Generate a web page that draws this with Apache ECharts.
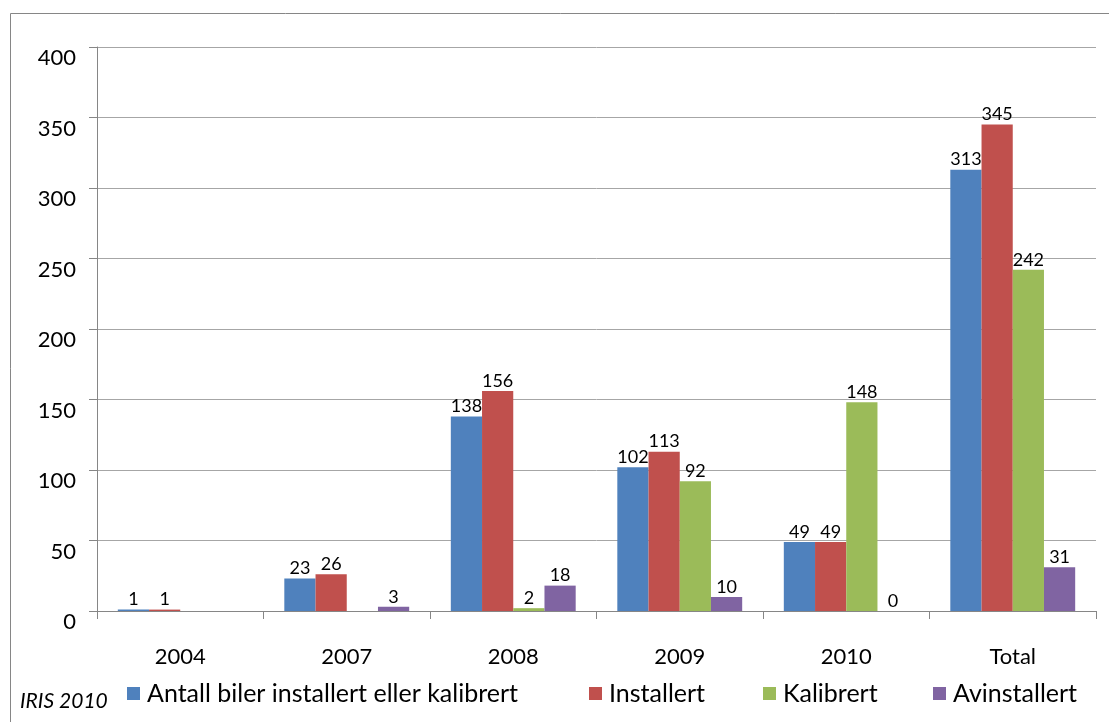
<!DOCTYPE html>
<html>
<head>
<meta charset="utf-8">
<script src="https://cdn.jsdelivr.net/npm/echarts@6/dist/echarts.min.js"></script>
<style>
  html, body { margin: 0; padding: 0; background: #fff; }
  #chart { width: 1109px; height: 722px; }
</style>
</head>
<body>
<div id="chart"></div>
<script>
// Categories along the x axis
const categories = ['2004', '2007', '2008', '2009', '2010', 'Total'];

// Series names and values (null = no bar drawn)
const seriesNames = ['Antall biler installert eller kalibrert', 'Installert', 'Kalibrert', 'Avinstallert'];
const antallValues = [1, 23, 138, 102, 49, 313];
const installertValues = [1, 26, 156, 113, 49, 345];
const kalibrertValues = [null, null, 2, 92, 148, 242];
const avinstallertValues = [null, 3, 18, 10, 0, 31];

// Y axis ticks
const yTicks = [0, 50, 100, 150, 200, 250, 300, 350, 400];

const colors = ['#4F81BD', '#C0504D', '#9BBB59', '#8064A2'];
const valueSets = [antallValues, installertValues, kalibrertValues, avinstallertValues];
const FONT = 'Lato';

const chart = echarts.init(document.getElementById('chart'), null, { renderer: 'canvas' });

const series = seriesNames.map((name, i) => ({
  name: name,
  type: 'bar',
  data: valueSets[i],
  barGap: '0%',
  barCategoryGap: '25%',
  itemStyle: { color: colors[i] },
  label: {
    show: true,
    position: 'top',
    distance: 1,
    color: '#000',
    fontFamily: FONT,
    fontSize: 18
  }
}));

// One legend per entry, placed individually along the bottom row
const legendLefts = [127, 589, 763, 933];
const legends = seriesNames.map((name, i) => ({
  data: [name],
  left: legendLefts[i],
  top: 681,
  padding: 0,
  itemWidth: 13,
  itemHeight: 13,
  itemGap: 0,
  icon: 'rect',
  textStyle: { fontFamily: FONT, fontSize: 25, color: '#000', padding: [8, 0, 0, 2] },
  selectedMode: false
}));

chart.setOption({
  animation: false,
  backgroundColor: '#fff',
  grid: { left: 97, right: 13, top: 47, bottom: 111 },
  legend: legends,
  xAxis: {
    type: 'category',
    data: categories,
    axisLine: { lineStyle: { color: '#868686', width: 1 } },
    axisTick: { show: true, length: 8, lineStyle: { color: '#868686' } },
    axisLabel: { fontFamily: FONT, fontSize: 22, color: '#000', margin: 35 }
  },
  yAxis: {
    type: 'value',
    min: yTicks[0],
    max: yTicks[yTicks.length - 1],
    interval: 50,
    axisLine: { show: true, lineStyle: { color: '#868686', width: 1 } },
    axisTick: { show: true, length: 8, lineStyle: { color: '#868686' } },
    // labels hang just below their gridlines
    axisLabel: { fontFamily: FONT, fontSize: 22, color: '#000', margin: 21, verticalAlign: 'top' },
    splitLine: { show: true, lineStyle: { color: '#a6a6a6', width: 1 } }
  },
  series: series,
  graphic: [
    {
      type: 'rect',
      shape: { x: 10.5, y: 13.5, width: 1110, height: 720 },
      style: { fill: 'none', stroke: '#868686', lineWidth: 1 },
      silent: true
    },
    {
      type: 'text',
      left: 20,
      top: 691,
      style: { text: 'IRIS 2010', fontFamily: FONT, fontStyle: 'italic', fontSize: 21, fill: '#000' }
    }
  ]
});
</script>
</body>
</html>
